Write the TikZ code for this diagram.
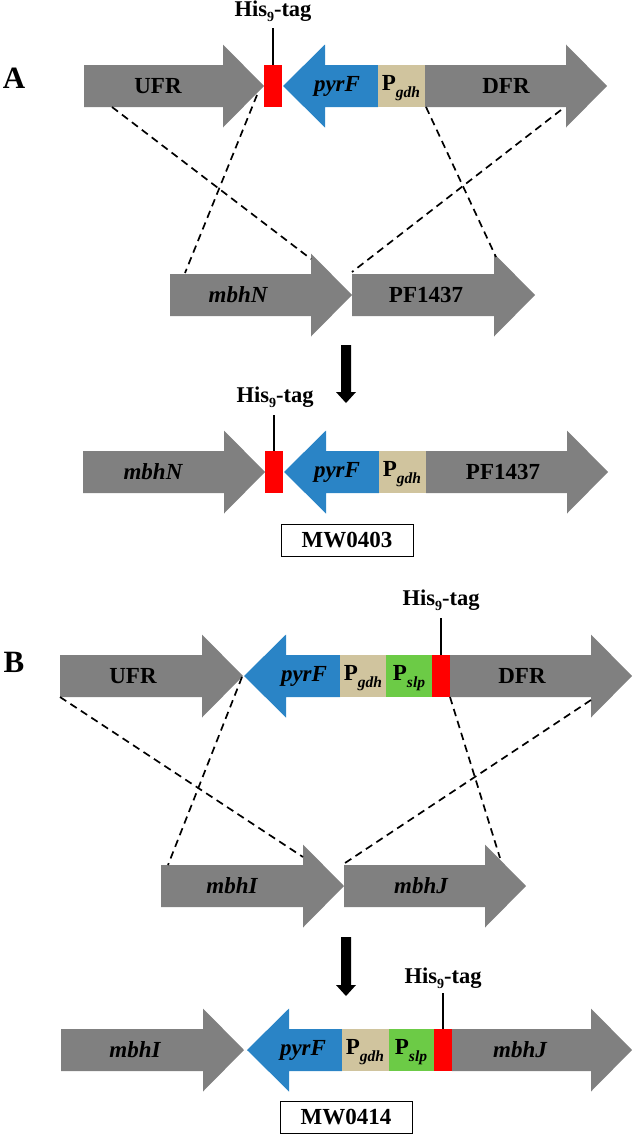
\documentclass[tikz,border=0pt]{standalone}
\usepackage{fontspec}
\setmainfont{Liberation Serif}
\definecolor{ggray}{HTML}{808080}
\definecolor{gblue}{HTML}{2A84C6}
\definecolor{gtan}{HTML}{D0C49E}
\definecolor{ggreen}{HTML}{6CCB46}
\definecolor{gred}{HTML}{FF0000}
\newcommand{\gsub}[1]{\raisebox{-0.33em}{\fontsize{15.5}{15.5}\selectfont\itshape #1}}
\newcommand{\hislabel}{His\raisebox{-0.22em}{\fontsize{14}{14}\selectfont 9}-tag}
% right-pointing gene: x1, x2(tip), yc, colour
\newcommand{\rgene}[4]{\fill[#4] (#1,#3-21) -- (#2-41,#3-21) -- (#2-41,#3-41.5) -- (#2,#3) -- (#2-41,#3+41.5) -- (#2-41,#3+21) -- (#1,#3+21) -- cycle;}
% left-pointing gene: x1(tip), x2, yc, colour
\newcommand{\lgene}[4]{\fill[#4] (#1,#3) -- (#1+42,#3-41.5) -- (#1+42,#3-21) -- (#2,#3-21) -- (#2,#3+21) -- (#1+42,#3+21) -- (#1+42,#3+41.5) -- cycle;}
\newcommand{\boxseg}[4]{\fill[#4] (#1,#3-21) rectangle (#2,#3+21);}
\newcommand{\bigdown}[3]{\fill[black] (#1-5,#2) -- (#1+5,#2) -- (#1+5,#3-11) -- (#1+10,#3-11) -- (#1,#3) -- (#1-10,#3-11) -- (#1-5,#3-11) -- cycle;}
\begin{document}
\begin{tikzpicture}[x=1pt,y=-1pt,
  lbl/.style={font=\fontsize{23}{26}\selectfont\bfseries, inner sep=0pt},
  ilbl/.style={font=\fontsize{23}{26}\selectfont\bfseries\itshape, inner sep=0pt},
  hislbl/.style={font=\fontsize{22.5}{25}\selectfont\bfseries, inner sep=0pt},
  panel/.style={font=\fontsize{31}{33}\selectfont\bfseries, inner sep=0pt},
  strain/.style={draw=black, line width=0.8pt, font=\fontsize{23}{26}\selectfont\bfseries, minimum width=132pt, minimum height=32pt, inner sep=0pt},
  dashln/.style={dash pattern=on 7.5pt off 5pt, line width=1.7pt},
  tagln/.style={line width=1.2pt}]
\useasboundingbox (0,0) rectangle (633,1135);

% ================= Panel A =================
\node[panel] (A) at (14,78) {A};
% top row
\rgene{84}{264}{86}{ggray}
\boxseg{264}{282}{86}{gred}
\lgene{283}{378}{86}{gblue}
\boxseg{378}{425}{86}{gtan}
\rgene{425}{607}{86}{ggray}
\node[lbl] (ufrA) at (158,86) {UFR};
\node[ilbl] (pyrA) at (337,86) {pyrF};
\node[lbl] (pgA) at (401,88) {P\gsub{gdh}};
\node[lbl] (dfrA) at (506,86) {DFR};
\node[hislbl] (hisA) at (273,11) {\hislabel};
\coordinate (hisAt) at (273,28);
\coordinate (hisAb) at (273,65);
\draw[tagln] (hisAt) -- (hisAb);
% middle row
\rgene{170}{352}{295}{ggray}
\rgene{352}{535}{295}{ggray}
\node[ilbl] (mbhNm) at (238,295) {mbhN};
\node[lbl] (pfm) at (426,295) {PF1437};
% dashed crossovers
\coordinate (a1s) at (112,107); \coordinate (a1e) at (311,259);
\coordinate (a2s) at (257,95);  \coordinate (a2e) at (185,273);
\coordinate (a3s) at (426,107); \coordinate (a3e) at (496,257);
\coordinate (a4s) at (561,110); \coordinate (a4e) at (352,272);
\draw[dashln] (a1s) -- (a1e);
\draw[dashln] (a2s) -- (a2e);
\draw[dashln] (a3s) -- (a3e);
\draw[dashln] (a4s) -- (a4e);
% arrow
\bigdown{346}{345}{403}
% bottom row
\rgene{83}{265}{472}{ggray}
\boxseg{265}{283}{472}{gred}
\lgene{284}{379}{472}{gblue}
\boxseg{379}{426}{472}{gtan}
\rgene{426}{608}{472}{ggray}
\node[ilbl] (mbhNb) at (153,472) {mbhN};
\node[ilbl] (pyrAb) at (337,472) {pyrF};
\node[lbl] (pgAb) at (402,474) {P\gsub{gdh}};
\node[lbl] (pfb) at (503,472) {PF1437};
\node[hislbl] (hisAb2) at (275,397) {\hislabel};
\coordinate (hisBt) at (274,415);
\coordinate (hisBb) at (274,451);
\draw[tagln] (hisBt) -- (hisBb);
\node[strain] (mw403) at (347,540.5) {MW0403};

% ================= Panel B =================
\node[panel] (B) at (14,662) {B};
% top row
\rgene{60}{243}{676}{ggray}
\lgene{244}{340}{676}{gblue}
\boxseg{340}{386}{676}{gtan}
\boxseg{386}{432}{676}{ggreen}
\boxseg{432}{450}{676}{gred}
\rgene{450}{632}{676}{ggray}
\node[lbl] (ufrB) at (133,676) {UFR};
\node[ilbl] (pyrB) at (304,676) {pyrF};
\node[lbl] (pgB) at (363,678) {P\gsub{gdh}};
\node[lbl] (psB) at (409,678) {P\gsub{slp}};
\node[lbl] (dfrB) at (522,676) {DFR};
\node[hislbl] (hisB) at (441,600) {\hislabel};
\coordinate (hisCt) at (441,618);
\coordinate (hisCb) at (441,655);
\draw[tagln] (hisCt) -- (hisCb);
% middle row
\rgene{161}{344}{886}{ggray}
\rgene{344}{526}{886}{ggray}
\node[ilbl] (mbhIm) at (232,886) {mbhI};
\node[ilbl] (mbhJm) at (421,886) {mbhJ};
% dashed crossovers
\coordinate (b1s) at (60,697);  \coordinate (b1e) at (303,857);
\coordinate (b2s) at (242,677); \coordinate (b2e) at (168,865);
\coordinate (b3s) at (450,697); \coordinate (b3e) at (500,858);
\coordinate (b4s) at (591,700); \coordinate (b4e) at (345,863);
\draw[dashln] (b1s) -- (b1e);
\draw[dashln] (b2s) -- (b2e);
\draw[dashln] (b3s) -- (b3e);
\draw[dashln] (b4s) -- (b4e);
% arrow
\bigdown{346}{937}{996}
% bottom row
\rgene{61}{244}{1050}{ggray}
\lgene{247}{342}{1050}{gblue}
\boxseg{342}{389}{1050}{gtan}
\boxseg{389}{434}{1050}{ggreen}
\boxseg{434}{452}{1050}{gred}
\rgene{452}{632}{1050}{ggray}
\node[ilbl] (mbhIb) at (135,1050) {mbhI};
\node[ilbl] (pyrBb) at (303,1050) {pyrF};
\node[lbl] (pgBb) at (365,1052) {P\gsub{gdh}};
\node[lbl] (psBb) at (411,1052) {P\gsub{slp}};
\node[ilbl] (mbhJb) at (520,1050) {mbhJ};
\node[hislbl] (hisBb2) at (443,978) {\hislabel};
\coordinate (hisDt) at (443,993);
\coordinate (hisDb) at (443,1029);
\draw[tagln] (hisDt) -- (hisDb);
\node[strain] (mw414) at (346,1117.5) {MW0414};
\end{tikzpicture}
\end{document}
